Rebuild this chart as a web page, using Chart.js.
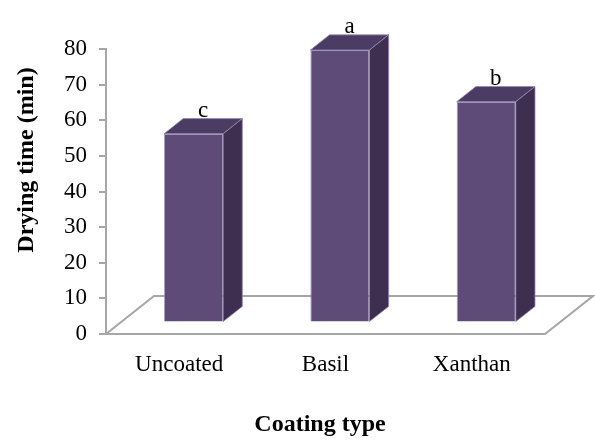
<!DOCTYPE html>
<html>
<head>
<meta charset="utf-8">
<script src="https://cdn.jsdelivr.net/npm/chart.js@4/dist/chart.umd.min.js"></script>
<style>
  html, body { margin: 0; padding: 0; background: #fff; }
  canvas { display: block; }
</style>
</head>
<body>
<canvas id="chart" width="595" height="441"></canvas>
<script>
// Drying time per coating type, with significance letters
const categories = ['Uncoated', 'Basil', 'Xanthan'];
const dryingTime = [53, 76.5, 62];
const groupLetters = ['c', 'a', 'b'];
const yMin = 0, yMax = 80, yStep = 10;
const yAxisTitle = 'Drying time (min)';
const xAxisTitle = 'Coating type';

const SERIF = '"Liberation Serif", "Times New Roman", Times, serif';
const FLOOR_DEPTH = { dx: 48, dy: -38 };   // oblique depth of the floor
const BAR_FRONT = 0.3, BAR_BACK = 0.7;     // bar depth span within the floor
const COLORS = {
  front: '#5f4b78',
  top: '#4b3c63',
  side: '#3e2f50',
  edge: 'rgba(150,135,180,0.8)',
  axis: '#a6a6a6'
};

// Draws the floor, the top/side faces of each bar and the annotation text
const bar3d = {
  id: 'bar3d',
  beforeDatasetsDraw(chart) {
    const { ctx, chartArea: a } = chart;
    const fx = FLOOR_DEPTH.dx, fy = FLOOR_DEPTH.dy;

    ctx.save();
    ctx.strokeStyle = COLORS.axis;
    ctx.lineWidth = 2;
    ctx.beginPath();
    ctx.moveTo(a.left, a.bottom);
    ctx.lineTo(a.left + fx, a.bottom + fy);
    ctx.lineTo(a.right + fx, a.bottom + fy);
    ctx.lineTo(a.right, a.bottom);
    ctx.closePath();
    ctx.stroke();
    ctx.restore();

    // move the bars into the middle of the floor depth
    ctx.save();
    ctx.translate(fx * BAR_FRONT, fy * BAR_FRONT);
    const ddx = fx * (BAR_BACK - BAR_FRONT), ddy = fy * (BAR_BACK - BAR_FRONT);
    chart.getDatasetMeta(0).data.forEach(bar => {
      const l = bar.x - bar.width / 2, r = bar.x + bar.width / 2;
      const t = bar.y, b = bar.base;
      ctx.lineWidth = 1;
      ctx.strokeStyle = COLORS.edge;
      // top face
      ctx.fillStyle = COLORS.top;
      ctx.beginPath();
      ctx.moveTo(l, t);
      ctx.lineTo(l + ddx, t + ddy);
      ctx.lineTo(r + ddx, t + ddy);
      ctx.lineTo(r, t);
      ctx.closePath();
      ctx.fill();
      ctx.stroke();
      // side face
      ctx.fillStyle = COLORS.side;
      ctx.beginPath();
      ctx.moveTo(r, t);
      ctx.lineTo(r + ddx, t + ddy);
      ctx.lineTo(r + ddx, b + ddy);
      ctx.lineTo(r, b);
      ctx.closePath();
      ctx.fill();
      ctx.stroke();
    });
  },
  afterDatasetsDraw(chart) {
    const { ctx } = chart;
    ctx.restore();

    const fx = FLOOR_DEPTH.dx, fy = FLOOR_DEPTH.dy;
    ctx.save();
    ctx.fillStyle = '#000';
    ctx.font = '23px ' + SERIF;
    ctx.textAlign = 'center';
    ctx.textBaseline = 'alphabetic';
    chart.getDatasetMeta(0).data.forEach((bar, i) => {
      const cx = bar.x + fx * (BAR_FRONT + BAR_BACK) / 2;
      const by = bar.y + fy * BAR_BACK - 2;
      ctx.fillText(groupLetters[i], cx, by);
    });
    ctx.restore();
  },
  afterDraw(chart) {
    const { ctx } = chart;
    ctx.save();
    ctx.fillStyle = '#000';
    ctx.font = 'bold 24px ' + SERIF;
    ctx.textAlign = 'center';
    ctx.textBaseline = 'alphabetic';
    ctx.fillText(xAxisTitle, 320, 431);
    ctx.translate(33, 160);
    ctx.rotate(-Math.PI / 2);
    ctx.fillText(yAxisTitle, 0, 0);
    ctx.restore();
  }
};

new Chart(document.getElementById('chart'), {
  type: 'bar',
  data: {
    labels: categories,
    datasets: [{
      data: dryingTime,
      backgroundColor: COLORS.front,
      borderColor: COLORS.edge,
      borderWidth: 1,
      categoryPercentage: 1,
      barPercentage: 0.404,
      clip: false
    }]
  },
  options: {
    responsive: false,
    animation: false,
    devicePixelRatio: 1,
    layout: { padding: { left: 0, top: 49, right: 50, bottom: 0 } },
    plugins: {
      legend: { display: false },
      tooltip: { enabled: false }
    },
    scales: {
      x: {
        grid: { display: false },
        border: { display: false },
        ticks: {
          color: '#000',
          font: { family: SERIF, size: 23 },
          padding: 9,
          maxRotation: 0
        },
        afterFit(scale) {
          scale.height = 107;
          scale.paddingLeft = 0;
          scale.paddingRight = 0;
        }
      },
      y: {
        min: yMin,
        max: yMax,
        ticks: {
          stepSize: yStep,
          color: '#000',
          font: { family: SERIF, size: 23 },
          padding: 12
        },
        grid: {
          drawOnChartArea: false,
          drawTicks: true,
          tickLength: 7,
          color: COLORS.axis,
          lineWidth: 2
        },
        border: { display: true, color: COLORS.axis, width: 2 },
        afterFit(scale) {
          scale.width = 106;
          scale.paddingTop = 0;
          scale.paddingBottom = 0;
        }
      }
    }
  },
  plugins: [bar3d]
});
</script>
</body>
</html>
